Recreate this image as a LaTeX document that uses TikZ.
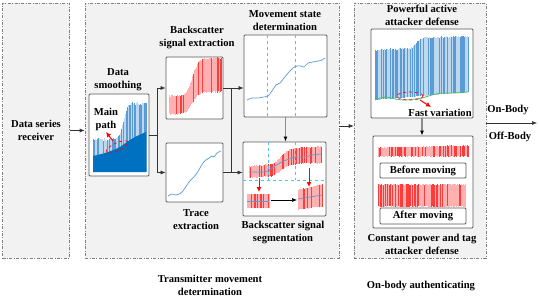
\documentclass[tikz,border=0pt]{standalone}
\usepackage{fontspec}
\setmainfont{Liberation Serif}
\usetikzlibrary{arrows.meta}
\definecolor{regfill}{HTML}{F2F2F2}
\definecolor{regline}{HTML}{7F7F7F}
\definecolor{pline}{HTML}{595959}
\definecolor{dblue}{HTML}{0070C0}
\definecolor{mblue}{HTML}{5B9BD5}
\definecolor{lblue}{HTML}{BDD7EE}
\definecolor{cyanl}{HTML}{4FC3F0}
\definecolor{pinkr}{HTML}{FFB0B0}
\definecolor{redr}{HTML}{FF3C3C}
\definecolor{grn}{HTML}{4CBB6C}
\begin{document}
\begin{tikzpicture}[x=1pt,y=-1pt,>={Latex[length=5pt,width=4pt]},
 declare function={sg(\t)=1/(1+exp(-max(-6,min(6,\t))));},
 txt/.style={font=\bfseries\fontsize{10.6}{13}\selectfont,align=center},
 lbl/.style={txt,inner sep=0},
 region/.style={draw=regline,fill=regfill,line width=.6pt,dash pattern=on 3pt off 1.5pt on .8pt off 1.5pt,inner sep=0},
 panel/.style={draw=pline,fill=white,line width=.8pt,rounded corners=1pt,inner sep=0},
 link/.style={->,line width=.6pt,black!80},
 down/.style={-{Latex[length=5pt,width=4pt,black]},line width=1.3pt,black!45},
 redarr/.style={-{Latex[length=5pt,width=5pt]},red,line width=1pt}]
\useasboundingbox (0,0) rectangle (539,305);
% regions
\node[region,txt,minimum width=67pt,minimum height=255pt] (rcv) at (36,130.5) {Data series\\receiver};
\node[region,minimum width=254pt,minimum height=255pt] (tmd) at (212,130.5) {};
\node[region,minimum width=132pt,minimum height=255pt] (oba) at (420,130.5) {};
% panels
\node[panel,minimum width=60pt,minimum height=82pt] (smo) at (119,135) {};
\node[panel,minimum width=57pt,minimum height=62pt] (bsx) at (194.5,88) {};
\node[panel,minimum width=57pt,minimum height=59pt] (trc) at (194.5,172.5) {};
\node[panel,minimum width=83pt,minimum height=82pt] (mvs) at (285.5,76) {};
\node[panel,minimum width=83pt,minimum height=74pt] (seg) at (284.5,179) {};
\node[panel,minimum width=102pt,minimum height=89pt] (paa) at (422,73.5) {};
\node[panel,minimum width=100pt,minimum height=92pt] (cpt) at (423,182) {};
% data smoothing
\pgfmathsetseed{4}
\foreach \x in {93,...,146}{
 \pgfmathsetmacro\tp{141-36*sg((\x-123)/2)-3*rnd}
 \pgfmathsetmacro\r{rnd}
 \ifdim\r pt<.5pt \def\bc{lblue}\else\def\bc{mblue}\fi
 \draw[\bc,line width=.9pt] (\x,172) -- (\x,\tp);
}
\fill[dblue] (93,172) -- plot[smooth] coordinates {(93,156) (105,153) (118,148) (127,142) (135,137) (146,132)} -- (146,172) -- cycle;
\draw[red,dashed,line width=.7pt,rotate around={25:(117,147)}] (117,147) ellipse [x radius=12pt,y radius=4pt];
\coordinate (mp0) at (113,141);
\coordinate (mp1) at (106,132);
\draw[redarr] (mp0) -- (mp1);
\node[lbl] (mpath) at (106,119) {Main\\path};
% backscatter extraction
\pgfmathsetseed{9}
\foreach \x in {169,...,221}{
 \pgfmathsetmacro\s{sg((\x-192)/3)}
 \pgfmathsetmacro\lo{113-22*\s+2*rnd}
 \pgfmathsetmacro\hi{97-38*\s-2*rnd}
 \pgfmathsetmacro\r{rnd}
 \ifdim\r pt<.7pt \def\bc{pinkr}\else\def\bc{redr}\fi
 \draw[\bc,line width=.7pt] (\x,\lo) -- (\x,\hi);
}
% trace
\draw[mblue,line width=.7pt] plot[smooth] coordinates {(168,196) (172,194) (176,195) (181,193) (185,188) (189,182) (193,178) (197,173) (200,168) (203,163) (206,160) (209,158) (212,156) (214,157) (217,153) (221,151)};
% movement state
\draw[cyanl,dashed,line width=.7pt] (267,35) -- (267,117) (295,35) -- (295,117);
\draw[mblue,line width=.7pt] plot[smooth] coordinates {(247,100) (252,98) (258,98) (264,97) (268,96) (272,91) (276,85) (280,83) (284,78) (289,72) (293,68) (297,66) (301,66) (304,67) (308,63) (313,62) (318,61) (322,60) (325,58)};
% segmentation
\pgfmathsetseed{5}
\foreach \x in {249,...,321}{
 \pgfmathsetmacro\s{sg((\x-281)/4)}
 \pgfmathsetmacro\hi{167-16*\s-4*(\x-249)/72-1.5*rnd}
 \pgfmathsetmacro\lo{177-12*\s-3*(\x-249)/72+1.5*rnd}
 \pgfmathsetmacro\r{rnd}
 \ifdim\r pt<.7pt \def\bc{pinkr}\else\def\bc{redr}\fi
 \draw[\bc,line width=.7pt] (\x,\lo) -- (\x,\hi);
}
\foreach \x in {247,...,269}{
 \pgfmathsetmacro\r{rnd}
 \ifdim\r pt<.7pt \def\bc{pinkr}\else\def\bc{redr}\fi
 \draw[\bc,line width=.7pt] (\x,208) -- (\x,194);
}
\foreach \x in {298,...,322}{
 \pgfmathsetmacro\hi{190-5*(\x-298)/24-rnd}
 \pgfmathsetmacro\lo{209-3*(\x-298)/24+rnd}
 \pgfmathsetmacro\r{rnd}
 \ifdim\r pt<.7pt \def\bc{pinkr}\else\def\bc{redr}\fi
 \draw[\bc,line width=.7pt] (\x,\lo) -- (\x,\hi);
}
\draw[mblue,line width=.7pt] plot[smooth] coordinates {(249,172) (262,172) (268,171) (275,166) (282,162) (289,159) (295,157) (305,157) (312,155) (321,154)};
\draw[mblue,line width=.7pt] (247,201) -- (269,201);
\draw[mblue,line width=.7pt] plot[smooth] coordinates {(298,199) (304,198) (310,197) (316,196) (322,195)};
\draw[cyanl,dashed,line width=.7pt] (243,180) -- (326,180) (268,142) -- (268,180) (295,142) -- (295,180);
\coordinate (sa) at (271,200);
\coordinate (sb) at (297,200);
\draw[->,line width=.6pt] (sa) -- (sb);
\draw[redarr] (259,178) -- (259,192);
\draw[redarr] (309,168) -- (309,187);
% powerful active attacker
\pgfmathsetseed{2}
\foreach \x in {375,...,468}{
 \pgfmathsetmacro\s{sg((\x-416)/2)}
 \pgfmathsetmacro\hi{51-10*\s-4*(\x-375)/93-2*rnd}
 \pgfmathsetmacro\lo{100-8*(\x-375)/93}
 \pgfmathsetmacro\r{rnd}
 \ifdim\r pt<.5pt \def\bc{mblue}\else\def\bc{lblue}\fi
 \draw[\bc,line width=.8pt] (\x,\lo) -- (\x,\hi);
}
\draw[grn,line width=.8pt] plot[smooth] coordinates {(375,100) (385,97) (395,99) (405,100) (415,99) (422,98) (432,95) (442,93) (455,93) (468,92)};
\draw[red,dashed,line width=.7pt] (410,96) ellipse [x radius=13pt,y radius=4pt];
\coordinate (fv0) at (420,100);
\coordinate (fv1) at (431,107);
\draw[redarr] (fv0) -- (fv1);
\node[lbl] (fvar) at (440,113) {Fast variation};
% constant power and tag
\pgfmathsetseed{7}
\foreach \x in {378,...,468}{
 \pgfmathsetmacro\hi{148-2*(\x-378)/90-rnd}
 \pgfmathsetmacro\lo{157-rnd}
 \pgfmathsetmacro\r{rnd}
 \ifdim\r pt<.6pt \def\bc{pinkr}\else\def\bc{redr}\fi
 \draw[\bc,line width=.7pt] (\x,\lo) -- (\x,\hi);
}
\foreach \x in {378,...,465}{
 \pgfmathsetmacro\hi{185-1.5*rnd}
 \pgfmathsetmacro\lo{206+1.5*rnd}
 \pgfmathsetmacro\r{rnd}
 \ifdim\r pt<.6pt \def\bc{pinkr}\else\def\bc{redr}\fi
 \draw[\bc,line width=.7pt] (\x,\lo) -- (\x,\hi);
}
\node[panel,txt,minimum width=86pt,minimum height=15pt] (bfm) at (423,170.5) {Before moving};
\node[panel,txt,minimum width=86pt,minimum height=16pt] (afm) at (423,216) {After moving};
% labels
\node[lbl] (smolbl) at (118,79.5) {Data\\smoothing};
\node[lbl] (bsxlbl) at (197,37.5) {Backscatter\\signal extraction};
\node[lbl] (trclbl) at (196,219.5) {Trace\\extraction};
\node[lbl] (mvslbl) at (285,20.5) {Movement state\\determination};
\node[lbl] (seglbl) at (283,232.5) {Backscatter signal\\segmentation};
\node[lbl] (tmdlbl) at (210,285) {Transmitter movement\\determination};
\node[lbl] (paalbl) at (422,15.5) {Powerful active\\attacker defense};
\node[lbl] (cptlbl) at (422,244) {Constant power and tag\\attacker defense};
\node[lbl] (obalbl) at (421,286) {On-body authenticating};
% connectors
\draw[link] (rcv.east) -- (tmd.west);
\draw[link] (smo.east) -- ++(8,0) coordinate (sp1) |- (bsx.west);
\draw[link] (sp1) |- (trc.west);
\draw[link] (bsx.east) -- (bsx.east -| mvs.west);
\draw[link] (trc.east) -- (trc.east -| seg.west);
\draw[line width=.6pt,black!80] (bsx.east) ++(8,0) coordinate (sp2) -- (sp2 |- trc.east);
\draw[down] (mvs.south) -- (mvs.south |- seg.north);
\draw[link] ([yshift=4.5pt]tmd.east) -- ([yshift=4.5pt]oba.west);
\draw[down] (paa.south) -- (paa.south |- cpt.north);
\coordinate (out) at (537,123);
\draw[link] ([yshift=7.5pt]oba.east) -- (out);
\node[lbl] (onb) at (508,110) {On-Body};
\node[lbl] (offb) at (510,137) {Off-Body};
\end{tikzpicture}
\end{document}
